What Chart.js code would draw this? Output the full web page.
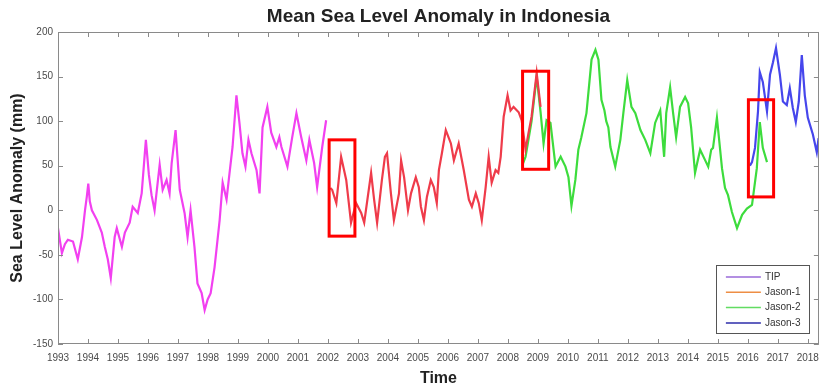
<!DOCTYPE html>
<html>
<head>
<meta charset="utf-8">
<title>Mean Sea Level Anomaly in Indonesia</title>
<script src="https://cdn.jsdelivr.net/npm/chart.js@4.4.1/dist/chart.umd.min.js"></script>
<style>
  html, body { margin: 0; padding: 0; background: #ffffff; }
  #wrap { width: 827px; height: 387px; }
</style>
</head>
<body>
<div id="wrap"><canvas id="c" width="827" height="387"></canvas></div>
<script>
// Mission names, in legend order
const missions = ['TIP', 'Jason-1', 'Jason-2', 'Jason-3'];
const chartTitle = 'Mean Sea Level Anomaly in Indonesia';

// TOPEX/Poseidon (decimal year, anomaly in mm)
const tipYears = [1993.00, 1993.13, 1993.23, 1993.33, 1993.50, 1993.66, 1993.80, 1993.90, 1993.96, 1994.01, 1994.06, 1994.13,
  1994.30, 1994.46, 1994.56, 1994.66, 1994.76, 1994.89, 1994.96, 1995.13, 1995.23, 1995.39, 1995.49, 1995.66,
  1995.79, 1995.93, 1996.03, 1996.12, 1996.22, 1996.39, 1996.49, 1996.62, 1996.72, 1996.79, 1996.92, 1997.06,
  1997.22, 1997.32, 1997.42, 1997.55, 1997.65, 1997.79, 1997.89, 1997.99, 1998.09, 1998.22, 1998.39, 1998.49,
  1998.62, 1998.72, 1998.82, 1998.95, 1999.05, 1999.15, 1999.25, 1999.35, 1999.45, 1999.62, 1999.72, 1999.82,
  1999.98, 2000.11, 2000.28, 2000.38, 2000.45, 2000.65, 2000.81, 2000.95, 2001.11, 2001.28, 2001.38, 2001.54,
  2001.64, 2001.81, 2001.94];
const tipValues = [-20, -48, -38, -33, -35, -55, -30, 0, 15, 30, 10, 0,
  -11, -25, -41, -55, -76, -30, -20, -41, -25, -14, 4, -3,
  19, 79, 40, 17, 0, 51, 23, 34, 19, 53, 90, 23,
  -3, -30, 0, -41, -82, -93, -112, -100, -93, -64, -11, 31,
  12, 42, 71, 129, 98, 64, 49, 79, 64, 45, 19, 93,
  116, 87, 71, 82, 71, 49, 82, 109, 82, 56, 79, 53,
  26, 71, 101];

// Jason-1
const jason1Years = [2002.08, 2002.14, 2002.28, 2002.44, 2002.61, 2002.77, 2002.94, 2003.11, 2003.21, 2003.44, 2003.54, 2003.64,
  2003.80, 2003.90, 2003.97, 2004.10, 2004.20, 2004.37, 2004.44, 2004.54, 2004.67, 2004.77, 2004.93, 2005.03,
  2005.10, 2005.20, 2005.30, 2005.43, 2005.53, 2005.63, 2005.70, 2005.80, 2005.93, 2006.10, 2006.20, 2006.36,
  2006.53, 2006.70, 2006.80, 2006.93, 2007.03, 2007.13, 2007.26, 2007.36, 2007.46, 2007.59, 2007.68, 2007.76,
  2007.86, 2007.99, 2008.09, 2008.19, 2008.36, 2008.46, 2008.59, 2008.69, 2008.79, 2008.96, 2009.09];
const jason1Values = [25, 23, 8, 60, 34, -14, 8, -3, -14, 42, 12, -14,
  34, 60, 64, 19, -11, 19, 56, 37, 0, 19, 37, 26,
  4, -11, 15, 34, 26, 8, 45, 64, 90, 75, 56, 75,
  45, 12, 4, 19, 8, -11, 26, 60, 31, 45, 42, 60,
  105, 129, 112, 116, 110, 101, 68, 87, 105, 154, 116];

// Jason-2
const jason2Years = [2008.50, 2008.59, 2008.69, 2008.79, 2008.96, 2009.09, 2009.19, 2009.29, 2009.42, 2009.59, 2009.76, 2009.92,
  2010.02, 2010.12, 2010.25, 2010.35, 2010.45, 2010.62, 2010.79, 2010.92, 2011.02, 2011.12, 2011.22, 2011.28,
  2011.35, 2011.42, 2011.58, 2011.75, 2011.85, 2011.98, 2012.12, 2012.25, 2012.42, 2012.58, 2012.75, 2012.91,
  2013.08, 2013.21, 2013.28, 2013.41, 2013.51, 2013.61, 2013.74, 2013.91, 2014.01, 2014.11, 2014.24, 2014.41,
  2014.58, 2014.68, 2014.78, 2014.84, 2014.97, 2015.14, 2015.24, 2015.34, 2015.47, 2015.64, 2015.81, 2015.97,
  2016.14, 2016.30, 2016.40, 2016.50, 2016.64];
const jason2Values = [52, 60, 80, 100, 150, 110, 75, 101, 98, 49, 60, 49,
  37, 5, 34, 68, 82, 109, 169, 180, 169, 124, 112, 100,
  93, 71, 49, 79, 109, 146, 116, 109, 90, 79, 64, 98,
  112, 60, 109, 138, 109, 82, 116, 127, 120, 93, 42, 68,
  56, 49, 68, 70, 104, 47, 25, 17, -2, -20, -5, 2,
  6, 47, 99, 70, 54];

// Jason-3
const jason3Years = [2016.07, 2016.14, 2016.24, 2016.34, 2016.40, 2016.50, 2016.64, 2016.74, 2016.84, 2016.94, 2017.07, 2017.17,
  2017.30, 2017.40, 2017.50, 2017.60, 2017.70, 2017.80, 2017.90, 2018.00, 2018.17, 2018.30, 2018.36];
const jason3Values = [50, 54, 70, 111, 155, 144, 111, 152, 166, 182, 152, 122,
  118, 137, 115, 99, 122, 174, 129, 104, 85, 65, 81];

// Highlighted windows: [startYear, endYear, lowMm, highMm]
const markedWindows = [
  [2002.04, 2002.90, -29, 79],
  [2008.49, 2009.36, 46, 156],
  [2016.02, 2016.86, 15, 124]
];

// Axis ranges
const yearMin = 1993, yearMax = 2018.37;
const mmMin = -150, mmMax = 200, mmStep = 50;

const lineColors = ['#f240f0', '#ef3b4a', '#3ddc3d', '#4646ec'];
const legendColors = ['#9a6ad8', '#ee8e44', '#62dc62', '#2c2caa'];

function toPoints(xs, ys) {
  return xs.map((x, i) => ({ x: x, y: ys[i] }));
}

const seriesYears = [tipYears, jason1Years, jason2Years, jason3Years];
const seriesValues = [tipValues, jason1Values, jason2Values, jason3Values];

const fontFamily = "'Liberation Sans', Arial, Helvetica, sans-serif";
Chart.defaults.font.family = fontFamily;

// Title over the plot area, axis frame with inward ticks,
// highlight boxes and the in-plot legend
const framePlugin = {
  id: 'frame',
  afterDatasetsDraw(chart) {
    const ctx = chart.ctx;
    const a = chart.chartArea;
    const xs = chart.scales.x, ys = chart.scales.y;
    ctx.save();

    // title centred over the axes
    ctx.fillStyle = '#222222';
    ctx.font = 'bold 19px ' + fontFamily;
    ctx.textAlign = 'center';
    ctx.textBaseline = 'middle';
    ctx.fillText(chartTitle, (a.left + a.right) / 2, 17);

    // highlight boxes
    ctx.strokeStyle = '#ff0000';
    ctx.lineWidth = 3;
    markedWindows.forEach(w => {
      const x0 = xs.getPixelForValue(w[0]), x1 = xs.getPixelForValue(w[1]);
      const y0 = ys.getPixelForValue(w[3]), y1 = ys.getPixelForValue(w[2]);
      ctx.strokeRect(x0, y0, x1 - x0, y1 - y0);
    });

    // frame
    ctx.strokeStyle = '#8a8a8a';
    ctx.lineWidth = 1;
    ctx.strokeRect(Math.round(a.left) + 0.5, Math.round(a.top) + 0.5,
      Math.round(a.right - a.left) - 1, Math.round(a.bottom - a.top) - 1);

    // inward ticks
    const tl = 5;
    ctx.beginPath();
    xs.ticks.forEach(t => {
      const px = Math.round(xs.getPixelForValue(t.value)) + 0.5;
      ctx.moveTo(px, a.bottom); ctx.lineTo(px, a.bottom - tl);
      ctx.moveTo(px, a.top); ctx.lineTo(px, a.top + tl);
    });
    ys.ticks.forEach(t => {
      const py = Math.round(ys.getPixelForValue(t.value)) + 0.5;
      ctx.moveTo(a.left, py); ctx.lineTo(a.left + tl, py);
      ctx.moveTo(a.right, py); ctx.lineTo(a.right - tl, py);
    });
    ctx.stroke();

    // legend
    const lw = 93, lh = 68;
    const lx = a.right - 10 - lw, ly = a.bottom - 11 - lh;
    ctx.fillStyle = '#ffffff';
    ctx.fillRect(lx, ly, lw, lh);
    ctx.strokeStyle = '#555555';
    ctx.lineWidth = 1;
    ctx.strokeRect(Math.round(lx) + 0.5, Math.round(ly) + 0.5, lw, lh);
    ctx.font = '10px ' + fontFamily;
    ctx.textBaseline = 'middle';
    ctx.textAlign = 'left';
    missions.forEach((name, i) => {
      const ry = ly + 12 + i * 15.3;
      ctx.strokeStyle = legendColors[i];
      ctx.lineWidth = 1.5;
      ctx.beginPath();
      ctx.moveTo(lx + 10, ry); ctx.lineTo(lx + 45, ry);
      ctx.stroke();
      ctx.fillStyle = '#333333';
      ctx.fillText(name, lx + 49, ry);
    });
    ctx.restore();
  }
};

new Chart(document.getElementById('c'), {
  type: 'line',
  data: {
    datasets: missions.map((name, i) => ({
      label: name,
      data: toPoints(seriesYears[i], seriesValues[i]),
      borderColor: lineColors[i],
      backgroundColor: lineColors[i],
      borderWidth: 2.2,
      pointRadius: 0,
      tension: 0,
      fill: false
    }))
  },
  options: {
    responsive: false,
    animation: false,
    layout: { padding: { left: 0, right: 6, top: 32, bottom: 0 } },
    plugins: {
      legend: { display: false },
      tooltip: { enabled: false },
      title: { display: false }
    },
    scales: {
      x: {
        type: 'linear',
        min: yearMin,
        max: yearMax,
        afterFit(s) { s.height = 43; },
        grid: { display: false, drawTicks: false },
        border: { display: false },
        ticks: {
          stepSize: 1,
          includeBounds: false,
          autoSkip: false,
          maxRotation: 0,
          padding: 8,
          color: '#4a4a4a',
          font: { size: 10 },
          callback: v => String(Math.round(v))
        },
        title: {
          display: true,
          text: 'Time',
          color: '#222222',
          font: { size: 16, weight: 'bold', lineHeight: 1 },
          padding: { top: 0, bottom: 0 }
        }
      },
      y: {
        min: mmMin,
        max: mmMax,
        afterFit(s) { s.width = 58; },
        grid: { display: false, drawTicks: false },
        border: { display: false },
        ticks: {
          stepSize: mmStep,
          padding: 5,
          color: '#4a4a4a',
          font: { size: 10 }
        },
        title: {
          display: true,
          text: 'Sea Level Anomaly (mm)',
          color: '#222222',
          font: { size: 16, weight: 'bold' },
          padding: { top: 8, bottom: 0 }
        }
      }
    }
  },
  plugins: [framePlugin]
});
</script>
</body>
</html>
